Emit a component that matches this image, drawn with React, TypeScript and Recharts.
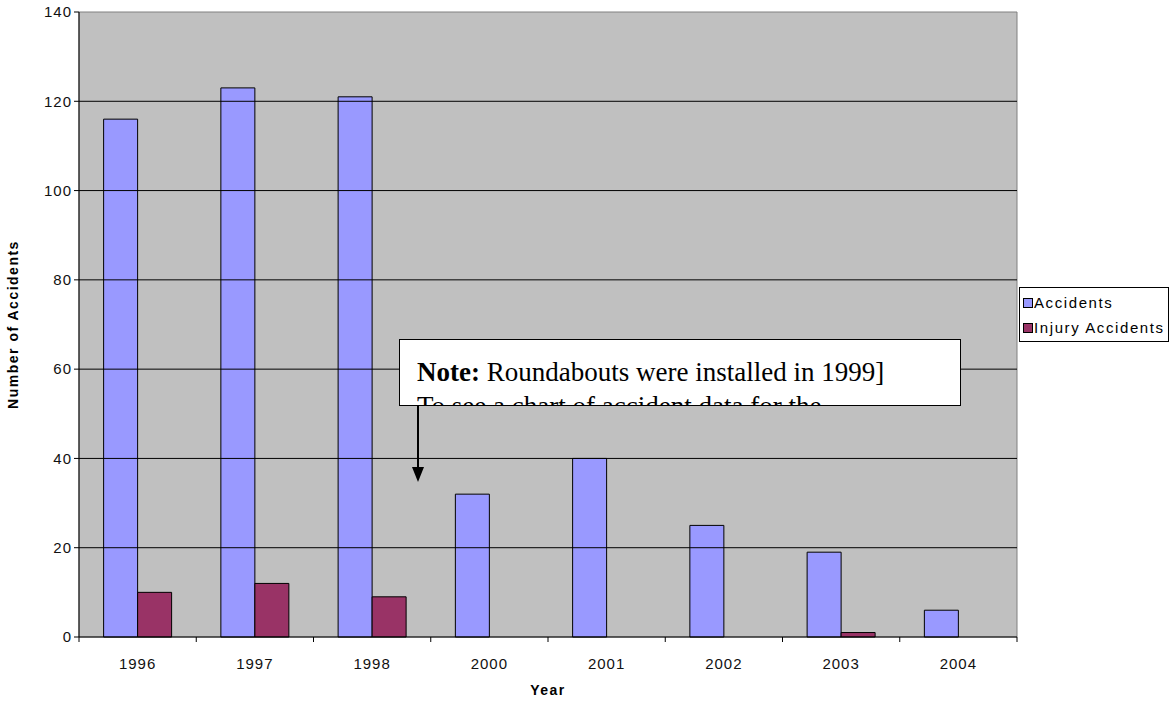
import { Bar, BarChart, CartesianGrid, Label, ReferenceArea, ReferenceLine, XAxis, YAxis } from 'recharts';

const years = ['1996', '1997', '1998', '2000', '2001', '2002', '2003', '2004'];
const accidents = [116, 123, 121, 32, 40, 25, 19, 6];
const injuryAccidents = [10, 12, 9, 0, 0, 0, 1, 0];
const yTicks = [0, 20, 40, 60, 80, 100, 120, 140];
const gridLines = [20, 40, 60, 80, 100, 120];

const data = years.map((year, i) => ({
  year,
  accidents: accidents[i],
  injury: injuryAccidents[i],
}));

const W = 1170;
const H = 702;
const margin = { top: 12, right: 153, bottom: 0, left: 0 };
const yAxisWidth = 79;
const band = (W - margin.left - margin.right - yAxisWidth) / years.length;

const font = 'Arial, "Liberation Sans", sans-serif';

const legendItems = [
  { name: 'Accidents', color: '#9999FF' },
  { name: 'Injury Accidents', color: '#993366' },
];

const YearTick = (props: any) => {
  const { x, y, payload, index } = props;
  return (
    <g>
      <line x1={x - band / 2} y1={y - 8} x2={x - band / 2} y2={y - 3} stroke="#000" />
      {index === years.length - 1 && (
        <line x1={x + band / 2} y1={y - 8} x2={x + band / 2} y2={y - 3} stroke="#000" />
      )}
      <text
        x={x}
        y={y + 24}
        textAnchor="middle"
        fontSize={15}
        letterSpacing={1}
        fontFamily={font}
        fill="#111"
      >
        {payload.value}
      </text>
    </g>
  );
};

export default function App() {
  return (
    <div style={{ position: 'absolute', left: 0, top: 0, width: W, height: H, background: '#fff' }}>
      <BarChart width={W} height={H} data={data} margin={margin} barCategoryGap="21%" barGap={0}>
        <CartesianGrid horizontal={false} vertical={false} fill="#C0C0C0" fillOpacity={1} />
        <ReferenceArea y1={0} y2={140} fill="none" stroke="#808080" strokeWidth={1} />
        {gridLines.map((v) => (
          <ReferenceLine key={v} y={v} stroke="#000" strokeWidth={1} />
        ))}
        <XAxis
          dataKey="year"
          height={65}
          tickLine={false}
          axisLine={{ stroke: '#000' }}
          tick={<YearTick />}
          interval={0}
        >
          <Label
            value="Year"
            position="insideBottom"
            offset={7}
            style={{ fontFamily: font, fontSize: 14, fontWeight: 'bold', fill: '#000', letterSpacing: 1.5 }}
          />
        </XAxis>
        <YAxis
          width={yAxisWidth}
          domain={[0, 140]}
          ticks={yTicks}
          interval={0}
          tickSize={5}
          tickLine={{ stroke: '#000' }}
          axisLine={{ stroke: '#000' }}
          tick={{ fontFamily: font, fontSize: 15, fill: '#111', letterSpacing: 1 }}
        >
          <Label
            value="Number of Accidents"
            angle={-90}
            position="insideLeft"
            offset={13}
            style={{
              fontFamily: font,
              fontSize: 14,
              fontWeight: 'bold',
              fill: '#000',
              textAnchor: 'middle',
              letterSpacing: 1.5,
            }}
          />
        </YAxis>
        <Bar dataKey="accidents" name="Accidents" fill="#9999FF" stroke="#000" strokeWidth={1} isAnimationActive={false} />
        <Bar dataKey="injury" name="Injury Accidents" fill="#993366" stroke="#000" strokeWidth={1} isAnimationActive={false} />
      </BarChart>

      {/* legend */}
      <div
        style={{
          position: 'absolute',
          left: 1019,
          top: 287,
          border: '1px solid #000',
          background: '#fff',
          width: 150,
          height: 55,
          fontFamily: font,
          fontSize: 15,
          letterSpacing: 1.6,
          color: '#000',
          boxSizing: 'border-box',
          padding: '2px 0 0 3px',
          whiteSpace: 'nowrap',
        }}
      >
        {legendItems.map((item) => (
          <div key={item.name} style={{ display: 'flex', alignItems: 'center', height: 25 }}>
            <span
              style={{
                width: 8,
                height: 8,
                background: item.color,
                border: '1px solid #000',
                marginRight: 1,
                display: 'inline-block',
                flexShrink: 0,
              }}
            />
            {item.name}
          </div>
        ))}
      </div>

      {/* note box, second line is clipped like in the original */}
      <div
        style={{
          position: 'absolute',
          left: 399,
          top: 339,
          width: 562,
          height: 67,
          boxSizing: 'border-box',
          border: '1.5px solid #000',
          background: '#fff',
          overflow: 'hidden',
          fontFamily: '"Times New Roman", "Liberation Serif", serif',
          fontSize: 27,
          lineHeight: '34px',
          padding: '15px 0 0 17px',
          color: '#000',
          whiteSpace: 'nowrap',
        }}
      >
        <div>
          <b>Note:</b> Roundabouts were installed in 1999]
        </div>
        <div>To see a chart of accident data for the</div>
      </div>

      <svg style={{ position: 'absolute', left: 0, top: 0 }} width={W} height={H} pointerEvents="none">
        <line x1={418} y1={405} x2={418} y2={470} stroke="#000" strokeWidth={2} />
        <polygon points="412,467 424,467 418,482" fill="#000" />
      </svg>
    </div>
  );
}
